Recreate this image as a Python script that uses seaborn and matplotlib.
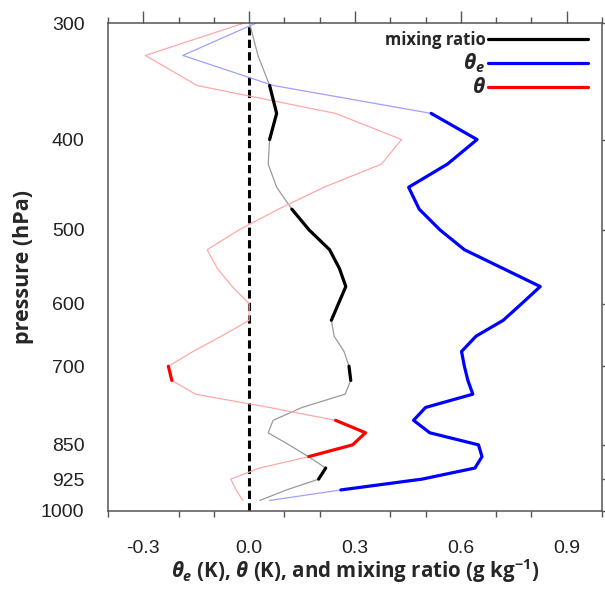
import numpy as np
import pandas as pd
import matplotlib
matplotlib.use("Agg")
import matplotlib.pyplot as plt
import matplotlib.ticker as mticker
from matplotlib.lines import Line2D
import seaborn as sns

sns.set_style("white")
plt.rcParams['font.family'] = ['Liberation Sans', 'DejaVu Sans']
plt.rcParams['mathtext.fontset'] = 'custom'
plt.rcParams['mathtext.it'] = 'Open Sans:italic:bold'
plt.rcParams['mathtext.rm'] = 'Open Sans:bold'
plt.rcParams['mathtext.bf'] = 'Open Sans:bold'

# ---- data ----
levels = [300, 325, 350, 375, 400, 425, 450, 475, 500, 525, 550, 575, 600, 625,
          650, 675, 700, 725, 750, 775, 800, 825, 850, 875, 900, 925, 950, 975]

theta = [-0.014, -0.294, -0.148, 0.245, 0.432, 0.375, 0.212, 0.083, -0.029, -0.119,
         -0.090, -0.048, 0.0, 0.0, -0.079, -0.159, -0.229, -0.219, -0.152, 0.057,
         0.245, 0.330, 0.293, 0.169, 0.030, -0.052, -0.037, -0.018]
theta_sig = [0, 0, 0, 0, 0, 0, 0, 0, 0, 0, 0, 0, 0, 0,
             0, 0, 1, 1, 0, 0, 1, 1, 1, 1, 0, 0, 0, 0]

theta_e = [0.020, -0.188, 0.068, 0.516, 0.646, 0.562, 0.452, 0.482, 0.541, 0.610,
           0.720, 0.825, 0.772, 0.720, 0.643, 0.602, 0.610, 0.620, 0.634, 0.500,
           0.466, 0.512, 0.650, 0.660, 0.640, 0.490, 0.260, 0.058]
theta_e_sig = [0, 0, 0, 1, 1, 1, 1, 1, 1, 1, 1, 1, 1, 1,
               1, 1, 1, 1, 1, 1, 1, 1, 1, 1, 1, 1, 1, 0]

mixing = [0.001, 0.025, 0.058, 0.078, 0.058, 0.054, 0.078, 0.121, 0.170, 0.228,
          0.256, 0.274, 0.253, 0.233, 0.241, 0.269, 0.283, 0.288, 0.272, 0.150,
          0.068, 0.054, 0.113, 0.168, 0.217, 0.197, 0.106, 0.030]
mixing_sig = [0, 0, 1, 1, 1, 0, 0, 1, 1, 1, 1, 1, 1, 1,
              0, 0, 1, 1, 0, 0, 0, 0, 0, 0, 1, 1, 0, 0]

ytick_vals = [300, 400, 500, 600, 700, 850, 925, 1000]
xtick_vals = [-0.3, 0.0, 0.3, 0.6, 0.9]

series = [
    ("mixing ratio", mixing, mixing_sig, "#000000", "#9a9a9a"),
    (r"$\theta_e$", theta_e, theta_e_sig, "#0000ff", "#a0a0ff"),
    (r"$\theta$", theta, theta_sig, "#ff0000", "#ffa8a8"),
]

fig = plt.figure(figsize=(6.05, 5.9), dpi=100)
ax = fig.add_axes([0.1785, 0.1344, 0.8165, 0.8266])

ax.axvline(0.0, color="black", lw=2.2, linestyle=(0, (2.7, 1.4)), zorder=1)

handles = []
for name, vals, sig, col, light in series:
    df = pd.DataFrame({"p": levels, "v": vals, "s": sig})
    sns.lineplot(data=df, x="v", y="p", sort=False, estimator=None, orient="y",
                 color=light, lw=0.9, ax=ax, zorder=2)
    run_id = (df["s"].diff().fillna(df["s"]) != 0).cumsum()
    for rid, grp in df[df["s"] == 1].groupby(run_id[df["s"] == 1]):
        if len(grp) >= 2:
            sns.lineplot(data=grp, x="v", y="p", sort=False, estimator=None,
                         orient="y", color=col, lw=2.3, ax=ax, zorder=3)
    handles.append(Line2D([], [], color=col, lw=2.3))

ax.set_yscale("log")
ax.set_ylim(1000, 300)
ax.set_xlim(-0.4, 1.0)
ax.yaxis.set_major_locator(mticker.FixedLocator(ytick_vals))
ax.yaxis.set_major_formatter(mticker.FixedFormatter([str(v) for v in ytick_vals]))
ax.yaxis.set_minor_locator(mticker.NullLocator())
ax.xaxis.set_major_locator(mticker.FixedLocator(xtick_vals))
ax.xaxis.set_major_formatter(mticker.FixedFormatter(["%.1f" % v for v in xtick_vals]))
ax.xaxis.set_minor_locator(mticker.MultipleLocator(0.1))

spine_col = "#555555"
for s in ax.spines.values():
    s.set_visible(True)
    s.set_color(spine_col)
    s.set_linewidth(1.1)
ax.tick_params(axis="both", which="major", direction="out", length=9, width=1.0,
               color=spine_col, labelsize=14, labelcolor="#222222",
               top=True, right=True, labeltop=False, labelright=False)
ax.tick_params(axis="x", which="minor", direction="out", length=4, width=1.0,
               color=spine_col, top=True, bottom=True)
ax.tick_params(axis="x", which="major", pad=12)
ax.tick_params(axis="y", which="major", pad=8)

ax.set_xlabel(r"$\theta_e$ (K), $\theta$ (K), and mixing ratio (g kg$^{-1}$)",
              fontsize=14.8, fontweight="bold", family="Open Sans", labelpad=0)
ax.set_ylabel("pressure (hPa)", fontsize=15.5, fontweight="bold",
              family="Open Sans", labelpad=5)

leg = ax.legend(handles, ["mixing ratio", r"$\theta_e$", r"$\theta$"],
                loc="upper right", bbox_to_anchor=(0.985, 0.997), frameon=False,
                markerfirst=False, handlelength=6.0, handletextpad=0.15,
                labelspacing=0.12, borderaxespad=0.0,
                prop={"family": "Open Sans", "weight": "bold", "size": 12})
texts = leg.get_texts()
texts[1].set_fontsize(15)
texts[2].set_fontsize(15)
for t in texts:
    t.set_ha("right")

fig.savefig("out.png", dpi=100)
